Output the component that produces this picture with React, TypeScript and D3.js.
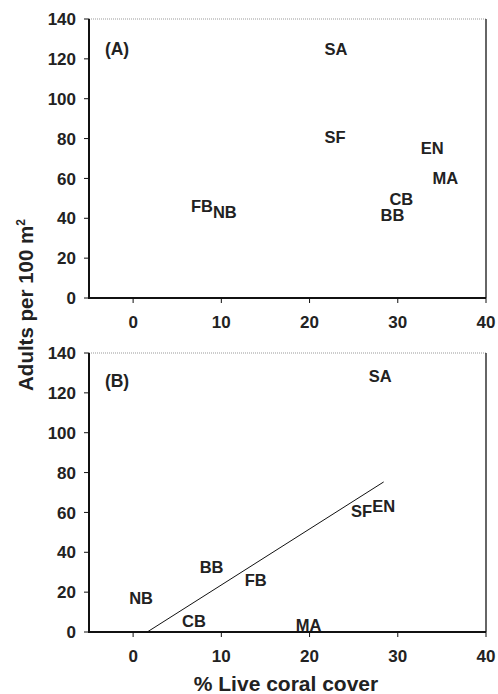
import React from "react";
import * as d3 from "d3";

// panel A: adults vs % live coral cover
const sitesA = ["SA", "SF", "EN", "MA", "CB", "BB", "FB", "NB"];
const coverA = [23.0, 22.9, 33.9, 35.4, 30.4, 29.4, 7.8, 10.4];
const adultsA = [125, 81, 75, 60, 49.5, 41.5, 46, 43];

// panel B
const sitesB = ["SA", "SF", "EN", "FB", "BB", "NB", "CB", "MA"];
const coverB = [28.0, 25.9, 28.4, 13.9, 8.9, 0.9, 6.9, 19.9];
const adultsB = [128.5, 60.7, 63, 26, 32.6, 17, 5.5, 3.5];

// regression line in panel B (end points)
const fitX = [1.6, 28.4];
const fitY = [0, 75.3];

const xTicks = [0, 10, 20, 30, 40];
const yTicks = [0, 20, 40, 60, 80, 100, 120, 140];

const FONT = "'Liberation Sans', Arial, sans-serif";

const left = 89;
const right = 486;
const panelH = 279;

const x = d3.scaleLinear().domain([-5, 40]).range([left, right]);

const Panel = ({ top, title, sites, cover, adults, fit }) => {
    const y = d3.scaleLinear().domain([0, 140]).range([top + panelH, top]);
    const bottom = top + panelH;
    const line = d3.line().x(d => x(d[0])).y(d => y(d[1]));
    return (
        <g>
            {/* top and right frame */}
            <line x1={left} x2={right} y1={top} y2={top} stroke="#999" strokeWidth={1} strokeDasharray="1,1" />
            <line x1={right} x2={right} y1={top} y2={bottom} stroke="#333" strokeWidth={1.5} />
            {/* axes */}
            <line x1={left} x2={left} y1={top} y2={bottom + 1} stroke="#111" strokeWidth={2} />
            <line x1={left - 1} x2={right} y1={bottom} y2={bottom} stroke="#111" strokeWidth={2} />
            {yTicks.map(t => (
                <g key={"y" + t}>
                    <line x1={left - 5} x2={left} y1={y(t)} y2={y(t)} stroke="#111" strokeWidth={1} />
                    <text x={left - 13} y={y(t)} dy="0.36em" textAnchor="end" fontSize={17} fontWeight="bold" fill="#222">{t}</text>
                </g>
            ))}
            {xTicks.map(t => (
                <g key={"x" + t}>
                    <line x1={x(t)} x2={x(t)} y1={bottom} y2={bottom + 5} stroke="#111" strokeWidth={1} />
                    <text x={x(t)} y={bottom + 30} textAnchor="middle" fontSize={17} fontWeight="bold" fill="#222">{t}</text>
                </g>
            ))}
            <text x={x(-3.2)} y={y(title === "(A)" ? 122 : 123)} fontSize={17.5} fontWeight="bold" fill="#222">{title}</text>
            {fit && (
                <path d={line(fit)} fill="none" stroke="#111" strokeWidth={1} />
            )}
            {sites.map((s, i) => (
                <text key={s} x={x(cover[i])} y={y(adults[i])} dy="0.36em" textAnchor="middle" fontSize={16.5} fontWeight="bold" fill="#222">{s}</text>
            ))}
        </g>
    );
};

export default function App() {
    const fitPts = fitX.map((v, i) => [v, fitY[i]]);
    return (
        <svg width={498} height={694} style={{ position: "absolute", left: 0, top: 0, fontFamily: FONT }}>
            <rect width={498} height={694} fill="white" />
            <Panel top={19} title="(A)" sites={sitesA} cover={coverA} adults={adultsA} fit={null} />
            <Panel top={353} title="(B)" sites={sitesB} cover={coverB} adults={adultsB} fit={fitPts} />
            <text transform="translate(33,305) rotate(-90)" textAnchor="middle" fontSize={20.5} fontWeight="bold" fill="#222">
                Adults per 100 m<tspan dy="-8" fontSize={12}>2</tspan>
            </text>
            <text x={286} y={691} textAnchor="middle" fontSize={21} fontWeight="bold" fill="#222">% Live coral cover</text>
        </svg>
    );
}
